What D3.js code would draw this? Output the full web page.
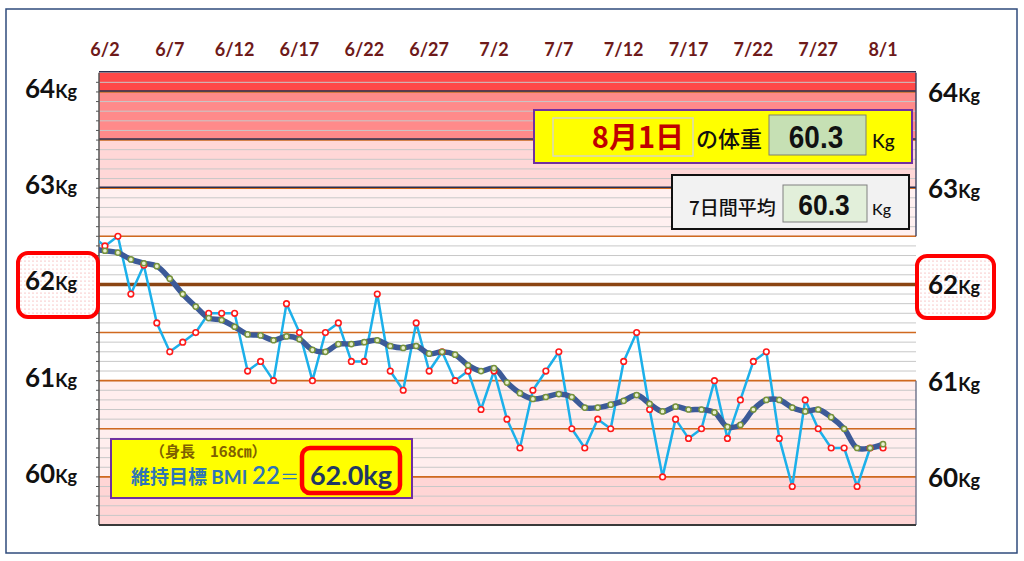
<!DOCTYPE html>
<html>
<head>
<meta charset="utf-8">
<script src="https://cdn.jsdelivr.net/npm/d3@7"></script>
<style>
  body { margin: 0; background: #fff; }
</style>
</head>
<body>
<div id="chart"></div>
<script>
// daily weights 6/1 .. 8/1 (6/1 sits just left of the plot and gets clipped)
const days = d3.timeDay.range(new Date(2023, 5, 1), new Date(2023, 7, 2));

const weights = [
  62.5, 62.4, 62.5, 61.9, 62.2, 61.6, 61.3, 61.4, 61.5, 61.7,
  61.7, 61.7, 61.1, 61.2, 61.0, 61.8, 61.5, 61.0, 61.5, 61.6,
  61.2, 61.2, 61.9, 61.1, 60.9, 61.6, 61.1, 61.3, 61.0, 61.1,
  60.7, 61.1, 60.6, 60.3, 60.9, 61.1, 61.3, 60.5, 60.3, 60.6,
  60.5, 61.2, 61.5, 60.7, 60.0, 60.6, 60.4, 60.5, 61.0, 60.4,
  60.8, 61.2, 61.3, 60.4, 59.9, 60.8, 60.5, 60.3, 60.3, 59.9,
  60.3, 60.3
];

// 7 day average
const averages = [
  62.37, 62.35, 62.33, 62.26, 62.22, 62.19, 62.06, 61.90, 61.77, 61.65,
  61.63, 61.56, 61.48, 61.47, 61.42, 61.46, 61.43, 61.32, 61.30, 61.38,
  61.38, 61.40, 61.42, 61.36, 61.34, 61.36, 61.28, 61.30, 61.27, 61.16,
  61.10, 61.13, 60.98, 60.87, 60.81, 60.83, 60.86, 60.83, 60.72, 60.72,
  60.75, 60.79, 60.85, 60.76, 60.68, 60.73, 60.70, 60.70, 60.67, 60.52,
  60.54, 60.70, 60.80, 60.80, 60.72, 60.68, 60.70, 60.62, 60.50, 60.30,
  60.30, 60.34
];

const tickLabels = ["6/2", "6/7", "6/12", "6/17", "6/22", "6/27", "7/2", "7/7", "7/12", "7/17", "7/22", "7/27", "8/1"];
const kgLabels = [64, 63, 62, 61, 60];
const bandEdges = [59.5, 60, 61, 62.5, 63, 63.5, 64, 64.2];
const halfLines = [60, 60.5, 61, 61.5, 62.5, 63, 63.5, 64];
const targetKg = 62.0;
const heightCm = 168;
const bmi = 22;
const lastDay = "8月1日";
const lastWeight = 60.3;
const lastAverage = 60.3;

const W = 1024, H = 561;
const plot = { left: 99, right: 916, top: 72.7, bottom: 525 };

const latin = "Lato, 'Open Sans', sans-serif";
const cjk = "'Noto Sans CJK JP', 'Noto Sans', sans-serif";
const numFont = "'Liberation Sans', Arial, sans-serif";

const svg = d3.select("#chart")
  .append("svg")
  .attr("width", W)
  .attr("height", H)
  .style("font-family", latin);

const defs = svg.append("defs");

defs.append("clipPath")
  .attr("id", "plot-clip")
  .append("rect")
  .attr("x", plot.left)
  .attr("y", plot.top)
  .attr("width", plot.right - plot.left)
  .attr("height", plot.bottom - plot.top);

const dots = defs.append("pattern")
  .attr("id", "dots")
  .attr("width", 4)
  .attr("height", 4)
  .attr("patternUnits", "userSpaceOnUse");
dots.append("rect").attr("width", 4).attr("height", 4).attr("fill", "#fff");
dots.append("circle").attr("cx", 1).attr("cy", 1).attr("r", 0.6).attr("fill", "#f28b8b");

const fmt = d3.timeFormat("%-m/%-d");

const xScale = d3.scaleTime()
  .domain([d3.timeHour.offset(days[1], -11), d3.timeHour.offset(days[days.length - 1], 61)])
  .range([plot.left, plot.right]);

const yScale = d3.scaleLinear()
  .domain([59.5, 64.2])
  .range([plot.bottom, plot.top]);

// outer frame
svg.append("rect")
  .attr("x", 6).attr("y", 9)
  .attr("width", 1011).attr("height", 544)
  .attr("fill", "none")
  .attr("stroke", "#2f4b7c")
  .attr("stroke-width", 1.5);

// background bands
const bandColors = ["#ffd5d5", "#ffeeee", "#ffffff", "#fff0f0", "#ffd7d7", "#ff8a8a", "#ff4848"];
const bands = d3.pairs(bandEdges);

svg.append("g")
  .selectAll("rect")
  .data(bands)
  .join("rect")
  .attr("x", plot.left)
  .attr("width", plot.right - plot.left)
  .attr("y", (d) => yScale(d[1]))
  .attr("height", (d) => yScale(d[0]) - yScale(d[1]))
  .attr("fill", (d, i) => bandColors[i]);

// 0.1 kg grid
const gridValues = d3.range(596, 642).map((v) => v / 10);

svg.append("g")
  .selectAll("line")
  .data(gridValues)
  .join("line")
  .attr("x1", plot.left)
  .attr("x2", plot.right)
  .attr("y1", (d) => yScale(d))
  .attr("y2", (d) => yScale(d))
  .attr("stroke", "#c8c8c8")
  .attr("stroke-width", 1);

// small ticks on the left edge
svg.append("g")
  .selectAll("line")
  .data(gridValues)
  .join("line")
  .attr("x1", plot.left - 3)
  .attr("x2", plot.left)
  .attr("y1", (d) => yScale(d))
  .attr("y2", (d) => yScale(d))
  .attr("stroke", "#555")
  .attr("stroke-width", 1);

// orange half kg lines
svg.append("g")
  .selectAll("line")
  .data(halfLines)
  .join("line")
  .attr("x1", plot.left)
  .attr("x2", plot.right)
  .attr("y1", (d) => yScale(d))
  .attr("y2", (d) => yScale(d))
  .attr("stroke", "#d0691f")
  .attr("stroke-width", 1.6);

// dark borders of the upper zones
svg.append("g")
  .selectAll("line")
  .data([64.2, 64, 63.5, 63])
  .join("line")
  .attr("x1", plot.left)
  .attr("x2", plot.right)
  .attr("y1", (d) => yScale(d) - 1)
  .attr("y2", (d) => yScale(d) - 1)
  .attr("stroke", "#2a2f4f")
  .attr("stroke-width", 1.4);

// right edges
svg.append("line")
  .attr("x1", plot.right).attr("x2", plot.right)
  .attr("y1", yScale(64.2)).attr("y2", yScale(62.5))
  .attr("stroke", "#3a4060").attr("stroke-width", 1.4);
svg.append("line")
  .attr("x1", plot.right).attr("x2", plot.right)
  .attr("y1", yScale(61)).attr("y2", plot.bottom)
  .attr("stroke", "#6a7088").attr("stroke-width", 1.4);

// left and bottom axis lines
svg.append("line")
  .attr("x1", plot.left).attr("x2", plot.left)
  .attr("y1", plot.top).attr("y2", plot.bottom)
  .attr("stroke", "#555").attr("stroke-width", 1.5);
svg.append("line")
  .attr("x1", plot.left).attr("x2", plot.right)
  .attr("y1", plot.bottom).attr("y2", plot.bottom)
  .attr("stroke", "#3a3a3a").attr("stroke-width", 2);

// target line 62kg
svg.append("line")
  .attr("x1", plot.left)
  .attr("x2", plot.right + 4)
  .attr("y1", yScale(targetKg))
  .attr("y2", yScale(targetKg))
  .attr("stroke", "#8b4513")
  .attr("stroke-width", 3.5);

// date labels
const tickDays = days.filter((d) => tickLabels.includes(fmt(d)));

svg.append("g")
  .selectAll("text")
  .data(tickDays)
  .join("text")
  .attr("x", (d) => xScale(d))
  .attr("y", 56)
  .attr("text-anchor", "middle")
  .attr("font-size", 18)
  .attr("font-weight", 700)
  .attr("fill", "#6e1a1a")
  .text((d) => fmt(d));

// data
const series = days.map((d, i) => ({ date: d, weight: weights[i], avg: averages[i] }));
const dataGroup = svg.append("g").attr("clip-path", "url(#plot-clip)");

dataGroup.append("path")
  .datum(series)
  .attr("fill", "none")
  .attr("stroke", "#1cb0ea")
  .attr("stroke-width", 2.5)
  .attr("stroke-linejoin", "round")
  .attr("d", d3.line().x((d) => xScale(d.date)).y((d) => yScale(d.weight)));

dataGroup.append("path")
  .datum(series)
  .attr("fill", "none")
  .attr("stroke", "#3c5a98")
  .attr("stroke-width", 5.5)
  .attr("stroke-linecap", "round")
  .attr("d", d3.line().curve(d3.curveCatmullRom.alpha(0.5)).x((d) => xScale(d.date)).y((d) => yScale(d.avg)));

dataGroup.append("g")
  .selectAll("circle")
  .data(series)
  .join("circle")
  .attr("cx", (d) => xScale(d.date))
  .attr("cy", (d) => yScale(d.weight))
  .attr("r", 2.8)
  .attr("fill", "#fff")
  .attr("stroke", "#ff1a1a")
  .attr("stroke-width", 1.6);

dataGroup.append("g")
  .selectAll("circle")
  .data(series)
  .join("circle")
  .attr("cx", (d) => xScale(d.date))
  .attr("cy", (d) => yScale(d.avg))
  .attr("r", 2.6)
  .attr("fill", "#e8f0d0")
  .attr("stroke", "#77933c")
  .attr("stroke-width", 1.5);

// 62kg highlight boxes
[[18, 253, 80, 64], [917, 256, 77, 62]].forEach(([x, y, w, h]) => {
  svg.append("rect")
    .attr("x", x).attr("y", y)
    .attr("width", w).attr("height", h)
    .attr("rx", 10)
    .attr("fill", "url(#dots)")
    .attr("stroke", "#ff0000")
    .attr("stroke-width", 4);
});

// kg labels both sides
function kgLabel(g, x, dy) {
  const t = g.selectAll("text")
    .data(kgLabels)
    .join("text")
    .attr("x", x)
    .attr("y", (d) => yScale(d) + dy)
    .attr("font-weight", 700)
    .attr("fill", "#111");
  t.append("tspan").attr("font-size", 26).text((d) => d);
  t.append("tspan").attr("font-size", 18).text("Kg");
}
kgLabel(svg.append("g"), 25, 6);
kgLabel(svg.append("g"), 928, 10);

// today's weight box
const today = svg.append("g");
today.append("rect")
  .attr("x", 534).attr("y", 110).attr("width", 378).attr("height", 53)
  .attr("fill", "#ffff00").attr("stroke", "#7030a0").attr("stroke-width", 2);
today.append("rect")
  .attr("x", 553).attr("y", 118).attr("width", 140).attr("height", 38)
  .attr("fill", "#ffff00").attr("stroke", "#d8d8c0").attr("stroke-width", 1.5);
today.append("text")
  .attr("x", 684).attr("y", 148)
  .attr("text-anchor", "end")
  .attr("font-family", cjk)
  .attr("font-size", 29)
  .attr("font-weight", 700)
  .attr("fill", "#c00000")
  .text(lastDay);
today.append("text")
  .attr("x", 696).attr("y", 147)
  .attr("font-family", cjk)
  .attr("font-size", 22)
  .attr("font-weight", 500)
  .attr("fill", "#111")
  .text("の体重");
today.append("rect")
  .attr("x", 769).attr("y", 115).attr("width", 97).attr("height", 40)
  .attr("fill", "#c6e0b4").attr("stroke", "#808070").attr("stroke-width", 1);
today.append("text")
  .attr("transform", "translate(816,148) scale(0.9,1)")
  .attr("text-anchor", "middle")
  .attr("font-family", numFont)
  .attr("font-size", 31)
  .attr("font-weight", 700)
  .attr("fill", "#111")
  .text(d3.format(".1f")(lastWeight));
today.append("text")
  .attr("x", 872).attr("y", 148)
  .attr("font-family", latin)
  .attr("font-size", 19)
  .attr("font-weight", 500)
  .attr("fill", "#111")
  .text("Kg");

// 7 day average box
const avgBox = svg.append("g");
avgBox.append("rect")
  .attr("x", 672).attr("y", 175).attr("width", 237).attr("height", 54)
  .attr("fill", "#f2f2f2").attr("stroke", "#111").attr("stroke-width", 2);
avgBox.append("text")
  .attr("x", 689).attr("y", 215)
  .attr("font-family", cjk)
  .attr("font-size", 19)
  .attr("font-weight", 500)
  .attr("fill", "#111")
  .text("7日間平均");
avgBox.append("rect")
  .attr("x", 783).attr("y", 185).attr("width", 84).attr("height", 37)
  .attr("fill", "#e2efda").attr("stroke", "#808080").attr("stroke-width", 1);
avgBox.append("text")
  .attr("transform", "translate(824,215) scale(0.88,1)")
  .attr("text-anchor", "middle")
  .attr("font-family", numFont)
  .attr("font-size", 30)
  .attr("font-weight", 700)
  .attr("fill", "#111")
  .text(d3.format(".1f")(lastAverage));
avgBox.append("text")
  .attr("x", 872).attr("y", 215)
  .attr("font-family", latin)
  .attr("font-size", 16)
  .attr("font-weight", 500)
  .attr("fill", "#111")
  .text("Kg");

// BMI box
const bmiBox = svg.append("g");
bmiBox.append("rect")
  .attr("x", 111).attr("y", 439).attr("width", 301).attr("height", 59)
  .attr("fill", "#ffff00").attr("stroke", "#7030a0").attr("stroke-width", 2);
bmiBox.append("text")
  .attr("x", 150).attr("y", 457)
  .attr("font-family", cjk)
  .attr("font-size", 15)
  .attr("font-weight", 700)
  .attr("fill", "#7f6000")
  .text(`（身長　${heightCm}㎝）`);
const goal = bmiBox.append("text")
  .attr("x", 131).attr("y", 484)
  .attr("font-family", cjk)
  .attr("font-weight", 700)
  .attr("fill", "#2e75b6");
goal.append("tspan").attr("font-size", 19).text("維持目標 ");
goal.append("tspan").attr("font-size", 19).attr("font-family", latin).text("BMI ");
goal.append("tspan").attr("font-size", 24).attr("font-weight", 600).attr("font-family", latin).text(bmi);
goal.append("tspan").attr("font-size", 19).attr("font-weight", 400).text("＝");
bmiBox.append("rect")
  .attr("x", 302).attr("y", 448).attr("width", 98).attr("height", 45)
  .attr("rx", 8)
  .attr("fill", "#ffff00").attr("stroke", "#ff0000").attr("stroke-width", 4.5);
bmiBox.append("text")
  .attr("x", 351).attr("y", 485)
  .attr("text-anchor", "middle")
  .attr("font-family", latin)
  .attr("font-size", 27)
  .attr("font-weight", 700)
  .attr("fill", "#1f3864")
  .text(d3.format(".1f")(targetKg) + "kg");
</script>
</body>
</html>
